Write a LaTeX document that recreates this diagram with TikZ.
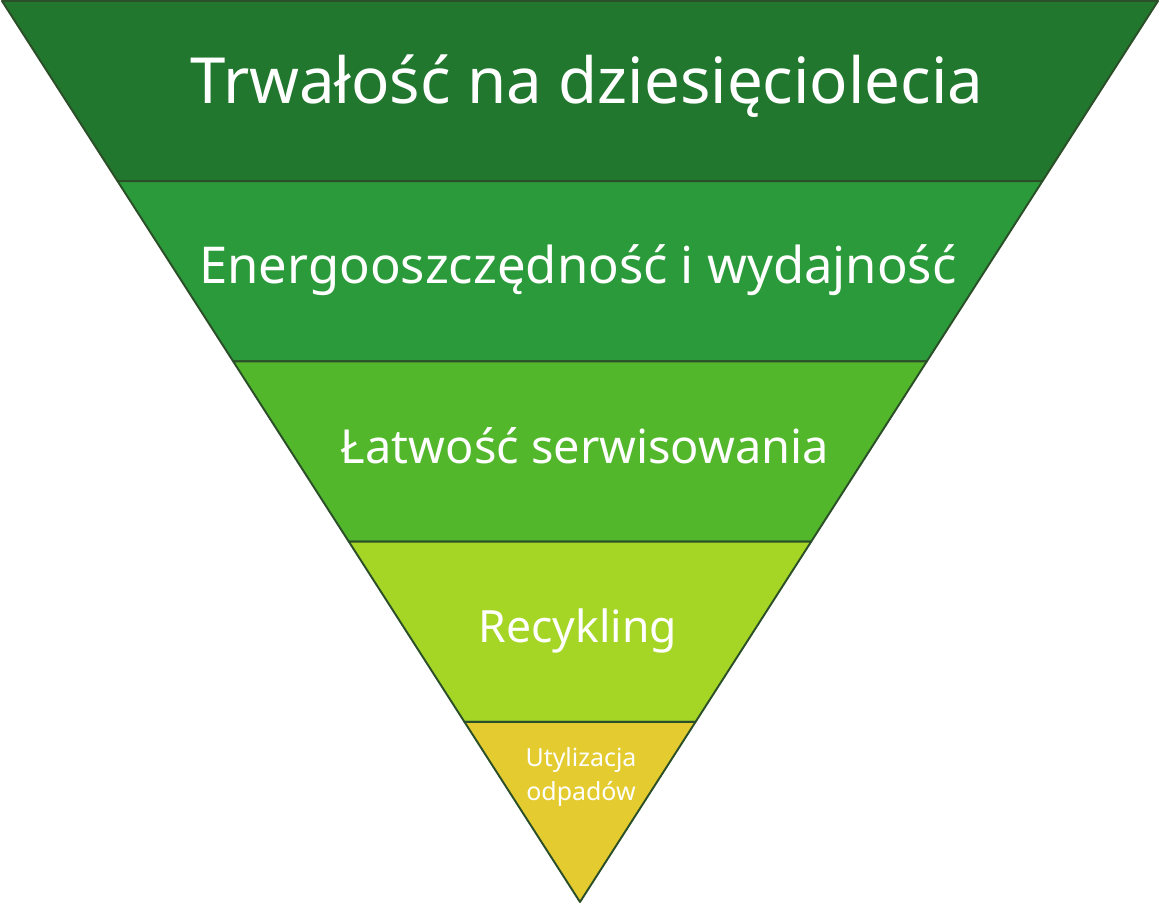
\documentclass[tikz,border=0pt]{standalone}
\usepackage{fontspec}
\setmainfont{Noto Sans}
\usetikzlibrary{calc}

\definecolor{bandA}{HTML}{21772E}
\definecolor{bandB}{HTML}{2A9A3A}
\definecolor{bandC}{HTML}{52B72A}
\definecolor{bandD}{HTML}{A5D626}
\definecolor{bandE}{HTML}{E4CB2F}
\definecolor{rimline}{HTML}{2B4F28}

\begin{document}
\begin{tikzpicture}[
            x=0.02cm, y=-0.02cm,
            every node/.append style={white,align=center,anchor=base},
            band/.style={draw=rimline,line width=1.1pt,line join=round}
        ]
            \useasboundingbox (0,0) rectangle (1160,904);
            \coordinate (tl) at (2,1);
            \coordinate (tr) at (1158,1);
            \coordinate (apex) at (580,902);
            \foreach \i in {1,...,4}{
                \coordinate (l\i) at ($(tl)!\i/5!(apex)$);
                \coordinate (r\i) at ($(tr)!\i/5!(apex)$);
            }

            \draw[band,fill=bandA] (tl) -- (tr) -- (r1) -- (l1) -- cycle;
            \draw[band,fill=bandB] (l1) -- (r1) -- (r2) -- (l2) -- cycle;
            \draw[band,fill=bandC] (l2) -- (r2) -- (r3) -- (l3) -- cycle;
            \draw[band,fill=bandD] (l3) -- (r3) -- (r4) -- (l4) -- cycle;
            \draw[band,fill=bandE] (l4) -- (r4) -- (apex) -- cycle;

            \node[font=\fontsize{36.2}{42}\selectfont] (durab) at (587,103) {Trwałość na dziesięciolecia};
            \node[font=\fontsize{28.9}{35}\selectfont] (energy) at (578,283) {Energooszczędność i wydajność};
            \node[font=\fontsize{26.7}{32}\selectfont] (service) at (585,463) {Łatwość serwisowania};
            \node[font=\fontsize{25.3}{31}\selectfont] (recycle) at (578,642) {Recykling};
            \node[font=\fontsize{14.2}{18.8}\selectfont] (waste) at (581,800) {Utylizacja\\odpadów};
        \end{tikzpicture}
\end{document}
